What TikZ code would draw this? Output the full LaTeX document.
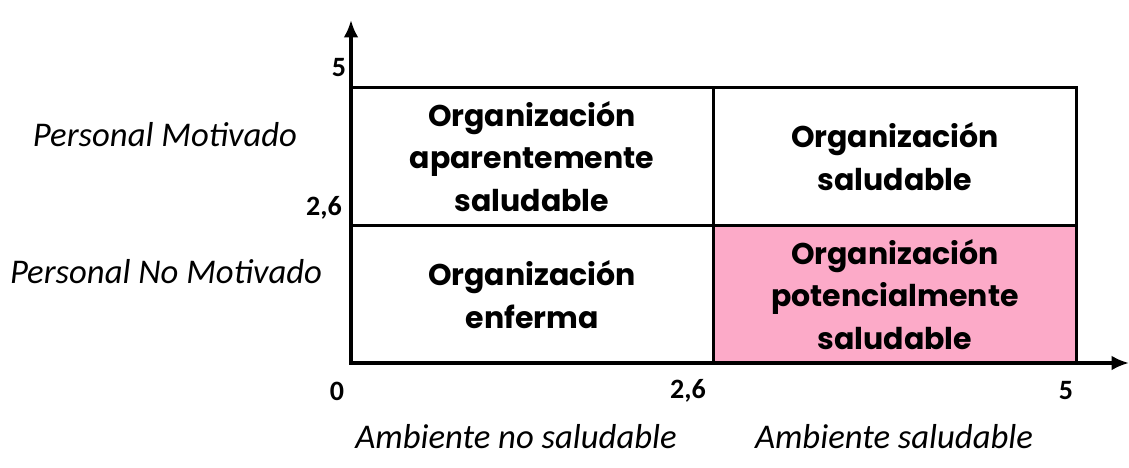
\documentclass[tikz,border=0pt]{standalone}
\usepackage{fontspec}
\setmainfont{Carlito}
\newfontfamily\cellfont{Poppins}
\usetikzlibrary{arrows.meta}
\definecolor{pinkcell}{RGB}{252,170,200}
\tikzset{
  cell/.style={draw, line width=2.4pt, inner sep=0pt, align=center,
    minimum width=272pt, minimum height=103.5pt,
    font=\cellfont\bfseries\fontsize{22.5}{32}\selectfont},
  axis/.style={line width=2.4pt, -{Latex[length=13pt,width=11pt]}},
  tick/.style={font=\bfseries\fontsize{21}{21}\selectfont, inner sep=0pt},
  side/.style={font=\itshape\fontsize{26}{26}\selectfont, inner sep=0pt}
}
\begin{document}
\begin{tikzpicture}[x=0.75pt,y=-0.75pt]
  \useasboundingbox (0,0) rectangle (1129,468);
  % quadrants
  \node[cell] (tl) at (532,156.5) {Organización\\aparentemente\\saludable};
  \node[cell] (tr) at (895,156.5) {Organización\\saludable};
  \node[cell] (bl) at (532,294.5) {Organización\\enferma};
  \node[cell, fill=pinkcell] (br) at (895,294.5) {Organización\\potencialmente\\saludable};
  % axes
  \coordinate (o) at (351,363);
  \coordinate (ytip) at (351,20);
  \coordinate (xtip) at (1129,363);
  \draw[axis] (o) -- (ytip);
  \draw[axis] (o) -- (xtip);
  % ticks
  \node[tick] (y5) at (339,68) {5};
  \node[tick] (y26) at (324,208) {2,6};
  \node[tick] (x0) at (337,391) {0};
  \node[tick] (x26) at (688,391) {2,6};
  \node[tick] (x5) at (1066,391) {5};
  % axis texts
  \node[side] (pm) at (165,135) {Personal Motivado};
  \node[side] (pnm) at (166,272) {Personal No Motivado};
  \node[side] (ans) at (516,437) {Ambiente no saludable};
  \node[side] (as) at (894,437) {Ambiente saludable};
\end{tikzpicture}
\end{document}
